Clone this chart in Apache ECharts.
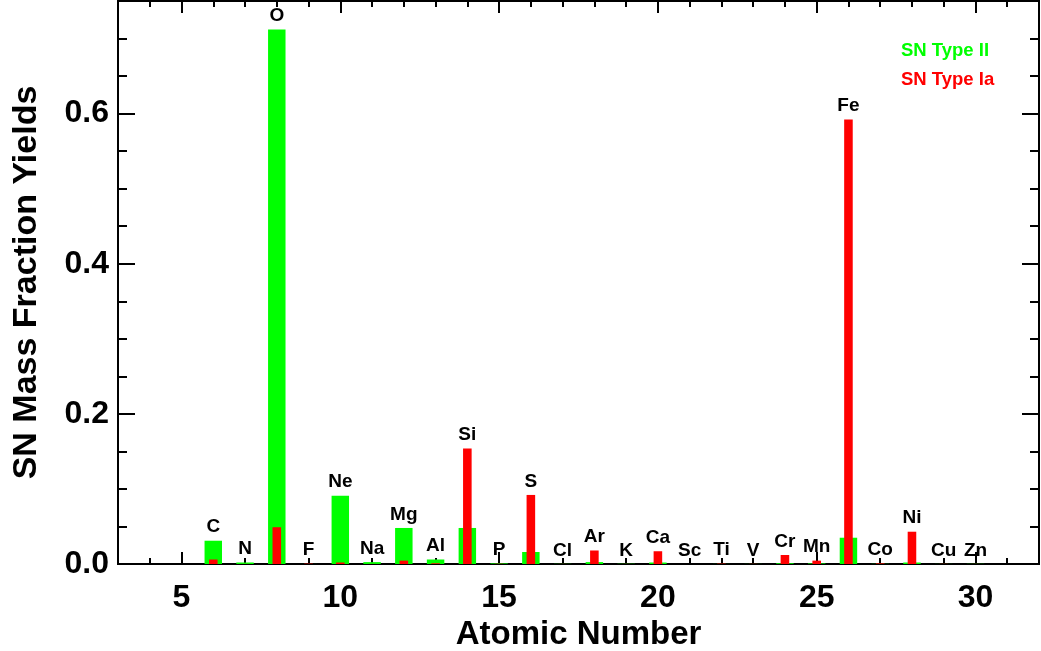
<!DOCTYPE html>
<html>
<head>
<meta charset="utf-8">
<script src="https://cdn.jsdelivr.net/npm/echarts@6/dist/echarts.min.js"></script>
<style>
html,body{margin:0;padding:0;background:#fff;}
#chart{width:1041px;height:651px;}
</style>
</head>
<body>
<div id="chart"></div>
<script>
// ---- data ----
const ELEMENTS = ['C','N','O','F','Ne','Na','Mg','Al','Si','P','S','Cl','Ar','K','Ca','Sc','Ti','V','Cr','Mn','Fe','Co','Ni','Cu','Zn'];
const ATOMIC_NUMBERS = [6,7,8,9,10,11,12,13,14,15,16,17,18,19,20,21,22,23,24,25,26,27,28,29,30];
const SN_TYPE_II = [0.031,0.002,0.712,0.00005,0.091,0.0025,0.048,0.006,0.048,0.0008,0.016,0.0002,0.0025,0.0003,0.002,0.00001,0.0001,0.0001,0.001,0.0008,0.035,0.0002,0.002,0.0001,0.0002];
const SN_TYPE_IA = [0.006,0.0001,0.049,0.0005,0.002,0.0001,0.0045,0.001,0.154,0.0003,0.092,0.0001,0.018,0.0001,0.017,0.00001,0.0005,0.0002,0.012,0.0045,0.592,0.0008,0.043,0.0002,0.0001];
const X_TICKS = [5,10,15,20,25,30];
const Y_TICKS = [0,0.2,0.4,0.6];
const SERIES_NAMES = ['SN Type II','SN Type Ia'];

const FONT = '"Liberation Sans", Arial, Helvetica, sans-serif';
const chart = echarts.init(document.getElementById('chart'), null, {renderer:'canvas'});

function barRender(widthUnits, color){
  return function(params, api){
    const x = api.value(0), y = api.value(1);
    const p0 = api.coord([x, 0]);
    const p1 = api.coord([x, y]);
    const w = api.size([widthUnits, 0])[0];
    return {type:'rect', shape:{x:p0[0]-w/2, y:p1[1], width:w, height:Math.max(p0[1]-p1[1],0)}, style:{fill:color}};
  };
}

const greenData = ATOMIC_NUMBERS.map((z,i)=>[z, SN_TYPE_II[i]]);
const redData = ATOMIC_NUMBERS.map((z,i)=>[z, SN_TYPE_IA[i]]);
const labelData = ATOMIC_NUMBERS.map((z,i)=>[z, Math.max(SN_TYPE_II[i], SN_TYPE_IA[i])]);

const lineStyle = {color:'#000', width:2};
function xAxisBase(extra){
  return Object.assign({type:'value', min:3, max:32, splitLine:{show:false}, axisLine:{show:true, onZero:false, lineStyle}}, extra);
}
function yAxisBase(extra){
  return Object.assign({type:'value', min:0, max:0.75, splitLine:{show:false}, axisLine:{show:true, onZero:false, lineStyle}}, extra);
}

const option = {
  animation:false,
  backgroundColor:'#fff',
  grid:{left:118, right:2, top:1, bottom:87, containLabel:false, outerBoundsMode:'none'},
  legend:{
    orient:'vertical', left:891, top:36, icon:'none', itemWidth:0, itemHeight:10, itemGap:10,
    selectedMode:false,
    textStyle:{fontFamily:FONT, fontWeight:'bold', fontSize:18.5},
    data:[
      {name:SERIES_NAMES[0], textStyle:{color:'#00ff00'}},
      {name:SERIES_NAMES[1], textStyle:{color:'#ff0000'}}
    ]
  },
  xAxis:[
    xAxisBase({position:'bottom',
      axisTick:{show:true, inside:true, length:12, lineStyle, customValues:X_TICKS},
      axisLabel:{show:true, customValues:X_TICKS, margin:18, color:'#000', fontFamily:FONT, fontWeight:'bold', fontSize:32},
      name:'Atomic Number', nameLocation:'middle', nameGap:51,
      nameTextStyle:{color:'#000', fontFamily:FONT, fontWeight:'bold', fontSize:33}
    }),
    xAxisBase({position:'bottom', interval:1,
      axisTick:{show:true, inside:true, length:6, lineStyle},
      axisLabel:{show:false}}),
    xAxisBase({position:'top',
      axisTick:{show:true, inside:true, length:12, lineStyle, customValues:X_TICKS},
      axisLabel:{show:false}}),
    xAxisBase({position:'top', interval:1,
      axisTick:{show:true, inside:true, length:6, lineStyle},
      axisLabel:{show:false}})
  ],
  yAxis:[
    yAxisBase({position:'left',
      axisTick:{show:true, inside:true, length:17, lineStyle, customValues:Y_TICKS},
      axisLabel:{show:true, customValues:Y_TICKS, margin:9, color:'#000', fontFamily:FONT, fontWeight:'bold', fontSize:32,
        formatter:v=>Number(v).toFixed(1)},
      name:'SN Mass Fraction Yields', nameLocation:'middle', nameGap:74,
      nameTextStyle:{color:'#000', fontFamily:FONT, fontWeight:'bold', fontSize:34}
    }),
    yAxisBase({position:'left', interval:0.05,
      axisTick:{show:true, inside:true, length:9, lineStyle},
      axisLabel:{show:false}}),
    yAxisBase({position:'right',
      axisTick:{show:true, inside:true, length:17, lineStyle, customValues:Y_TICKS},
      axisLabel:{show:false}}),
    yAxisBase({position:'right', interval:0.05,
      axisTick:{show:true, inside:true, length:9, lineStyle},
      axisLabel:{show:false}})
  ],
  series:[
    {type:'custom', name:SERIES_NAMES[0], xAxisIndex:0, yAxisIndex:0, data:greenData,
      encode:{x:0, y:1}, renderItem:barRender(0.55, '#00ff00'), z:3, silent:true},
    {type:'custom', name:SERIES_NAMES[1], xAxisIndex:0, yAxisIndex:0, data:redData,
      encode:{x:0, y:1}, renderItem:barRender(0.27, '#ff0000'), z:4, silent:true},
    {type:'custom', name:'labels', xAxisIndex:0, yAxisIndex:0, data:labelData,
      encode:{x:0, y:1}, z:5, silent:true,
      renderItem:function(params, api){
        const p = api.coord([api.value(0), api.value(1)]);
        return {type:'text', x:p[0], y:p[1]-4,
          style:{text:ELEMENTS[params.dataIndex], textAlign:'center', textVerticalAlign:'bottom',
            fill:'#000', font:'bold 19px ' + FONT}};
      }}
  ]
};
chart.setOption(option);
</script>
</body>
</html>
